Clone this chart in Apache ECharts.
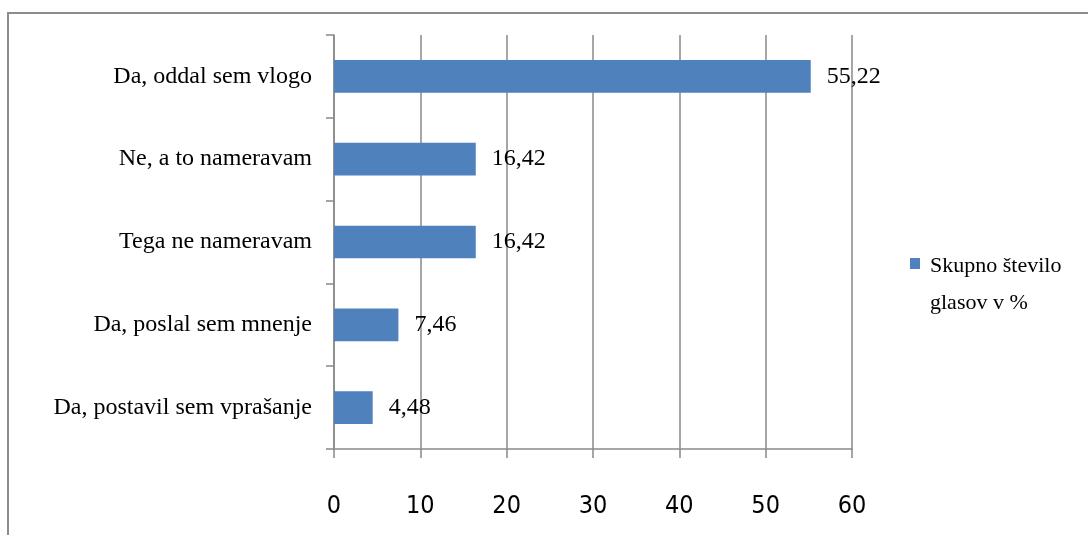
<!DOCTYPE html>
<html>
<head>
<meta charset="utf-8">
<title>Skupno število glasov v %</title>
<script src="https://cdn.jsdelivr.net/npm/echarts@6/dist/echarts.min.js"></script>
<style>
  html, body { margin: 0; padding: 0; background: #ffffff; }
  #chart { width: 1088px; height: 535px; }
</style>
</head>
<body>
<div id="chart"></div>
<script>
// Answer categories, listed top to bottom
const categories = [
  'Da, oddal sem vlogo',
  'Ne, a to nameravam',
  'Tega ne nameravam',
  'Da, poslal sem mnenje',
  'Da, postavil sem vprašanje'
];
// Share of all votes, in percent
const values = [55.22, 16.42, 16.42, 7.46, 4.48];
const seriesName = 'Skupno število glasov v %';
const legendLines = ['Skupno število', 'glasov v %'];
const xTicks = { min: 0, max: 60, interval: 10 };

const serif = '"Liberation Serif", "Times New Roman", serif';
const narrow = '"Liberation Sans Narrow", "DejaVu Sans Condensed", "Liberation Sans", sans-serif';
const axisGray = '#898989';

const chart = echarts.init(document.getElementById('chart'), null, { renderer: 'canvas' });

chart.setOption({
  backgroundColor: '#ffffff',
  animation: false,
  graphic: [{
    type: 'rect',
    silent: true,
    shape: { x: 8, y: 13, width: 1120, height: 600 },
    style: { fill: 'none', stroke: '#8c8c8c', lineWidth: 2 }
  }],
  grid: { left: 334, right: 236, top: 35, bottom: 86, containLabel: false },
  legend: {
    left: 910,
    top: 205,
    padding: 0,
    orient: 'vertical',
    icon: 'rect',
    itemWidth: 10,
    itemHeight: 11,
    // a blank spacer row keeps the icon level with the first text line
    formatter: function () {
      return '{gap|}\n' + legendLines.map(function (s) { return '{t|' + s + '}'; }).join('\n');
    },
    textStyle: {
      fontFamily: serif,
      fontSize: 22,
      color: '#000000',
      rich: {
        gap: { height: 43, lineHeight: 43 },
        t: { fontFamily: serif, fontSize: 22, color: '#000000', lineHeight: 37, padding: [0, 0, 0, 5] }
      }
    },
    data: [seriesName]
  },
  xAxis: {
    type: 'value',
    min: xTicks.min,
    max: xTicks.max,
    interval: xTicks.interval,
    axisLine: { show: true, lineStyle: { color: axisGray, width: 1.5 } },
    axisTick: { show: true, length: 9, lineStyle: { color: axisGray, width: 1.5 } },
    splitLine: { show: true, lineStyle: { color: axisGray, width: 1.5 } },
    axisLabel: {
      margin: 45,
      fontFamily: narrow,
      fontSize: 25,
      color: '#000000'
    }
  },
  yAxis: {
    type: 'category',
    inverse: true,
    data: categories,
    axisLine: { show: true, lineStyle: { color: axisGray, width: 1.5 } },
    axisTick: { show: true, length: 8, alignWithLabel: false, lineStyle: { color: axisGray, width: 1.5 } },
    axisLabel: {
      margin: 22,
      fontFamily: serif,
      fontSize: 24,
      color: '#000000'
    }
  },
  series: [{
    name: seriesName,
    type: 'bar',
    data: values,
    barCategoryGap: '60.5%',
    itemStyle: { color: '#4f81bd' },
    label: {
      show: true,
      position: 'right',
      distance: 16,
      fontFamily: serif,
      fontSize: 24,
      color: '#000000',
      formatter: function (p) { return p.value.toFixed(2).replace('.', ','); }
    }
  }]
});
</script>
</body>
</html>
